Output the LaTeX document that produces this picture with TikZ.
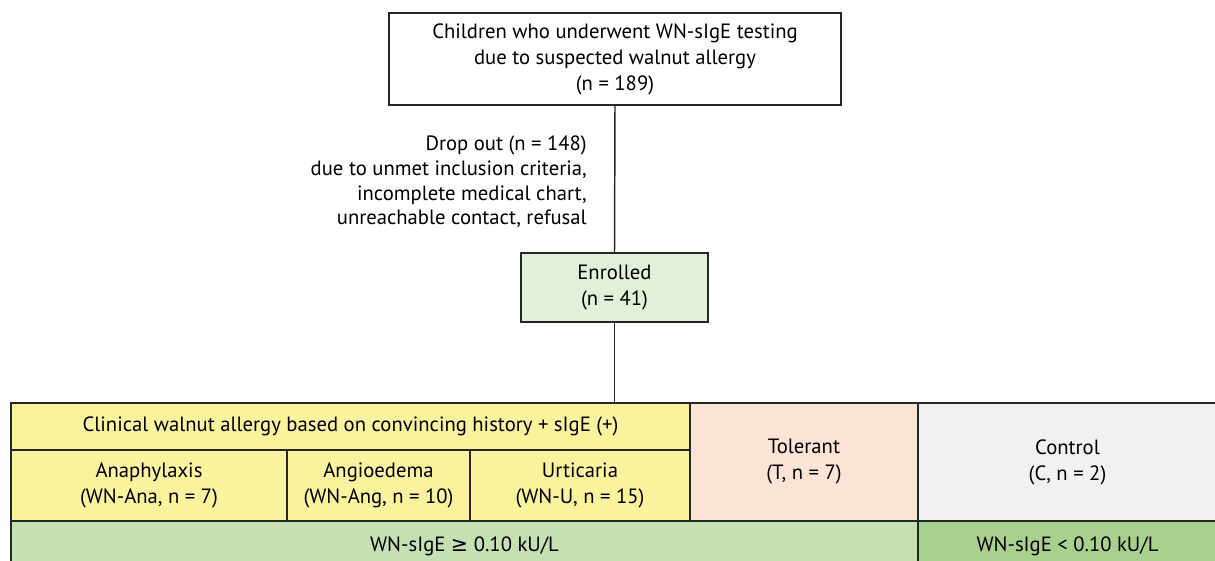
\documentclass[tikz,border=0pt]{standalone}
\usepackage{fontspec}
\setmainfont{PT Sans}
\newfontfamily\symbolfont{DejaVu Sans}
\usepackage{tikz}
\usetikzlibrary{positioning}
\definecolor{allergyyellow}{HTML}{FAF39E}
\definecolor{tolerantpink}{HTML}{FBE4D6}
\definecolor{controlgrey}{HTML}{F1F1F1}
\definecolor{enrolgreen}{HTML}{E2EFD9}
\definecolor{highgreen}{HTML}{C5E0B3}
\definecolor{lowgreen}{HTML}{A9D18E}
\tikzset{>=latex}
\tikzset{
  box/.style={draw=black!85,line width=1.1pt,align=center,inner sep=0pt,
    font=\fontsize{15.5}{19.5}\selectfont},
  cell/.style={box,minimum width=#1},
  link/.style={draw=black!85,line width=1.1pt}
}

\begin{document}
\begin{tikzpicture}[x=0.75pt,y=-0.75pt]
       \useasboundingbox (0,0) rectangle (1215,561);
       \node[box,minimum width=452*0.75pt,minimum height=92*0.75pt] (screen) at (615,59)
            {Children who underwent WN-sIgE testing\\due to suspected walnut allergy\\(n = 189)};
       \node[box,fill=enrolgreen,minimum width=187*0.75pt,minimum height=69*0.75pt] (enrolled) at (614.5,287.5)
            {Enrolled\\(n = 41)};
       \node[anchor=north east,align=right,inner sep=0pt,font=\fontsize{15.5}{18.5}\selectfont] (dropout) at (587,136)
            {Drop out (n = 148)\\due to unmet inclusion criteria,\\incomplete medical chart,\\unreachable contact, refusal};
       \node[cell=679*0.75pt,minimum height=47*0.75pt,fill=allergyyellow] (clinical) at (350.5,426.5)
            {Clinical walnut allergy based on convincing history + sIgE (+)};
       \node[cell=276*0.75pt,minimum height=71*0.75pt,fill=allergyyellow] (ana) at (149,485.5)
            {Anaphylaxis\\(WN-Ana, n = 7)};
       \node[cell=183*0.75pt,minimum height=71*0.75pt,fill=allergyyellow] (ang) at (378.5,485.5)
            {Angioedema\\(WN-Ang, n = 10)};
       \node[cell=220*0.75pt,minimum height=71*0.75pt,fill=allergyyellow] (urt) at (580,485.5)
            {Urticaria\\(WN-U, n = 15)};
       \node[cell=228*0.75pt,minimum height=118*0.75pt,fill=tolerantpink] (tolerant) at (804,462)
            {Tolerant\\(T, n = 7)};
       \node[cell=299*0.75pt,minimum height=118*0.75pt,fill=controlgrey] (control) at (1067.5,462)
            {Control\\(C, n = 2)};
       \node[cell=907*0.75pt,minimum height=50*0.75pt,fill=highgreen] (high) at (464.5,546)
            {WN-sIgE {\symbolfont ≥} 0.10 kU/L};
       \node[cell=299*0.75pt,minimum height=50*0.75pt,fill=lowgreen] (low) at (1067.5,546)
            {WN-sIgE < 0.10 kU/L};
       \draw[link] (screen.south) -- (enrolled.north);
       \draw[link] (enrolled.south) -- (enrolled.south |- clinical.north);
      \end{tikzpicture}
\end{document}
